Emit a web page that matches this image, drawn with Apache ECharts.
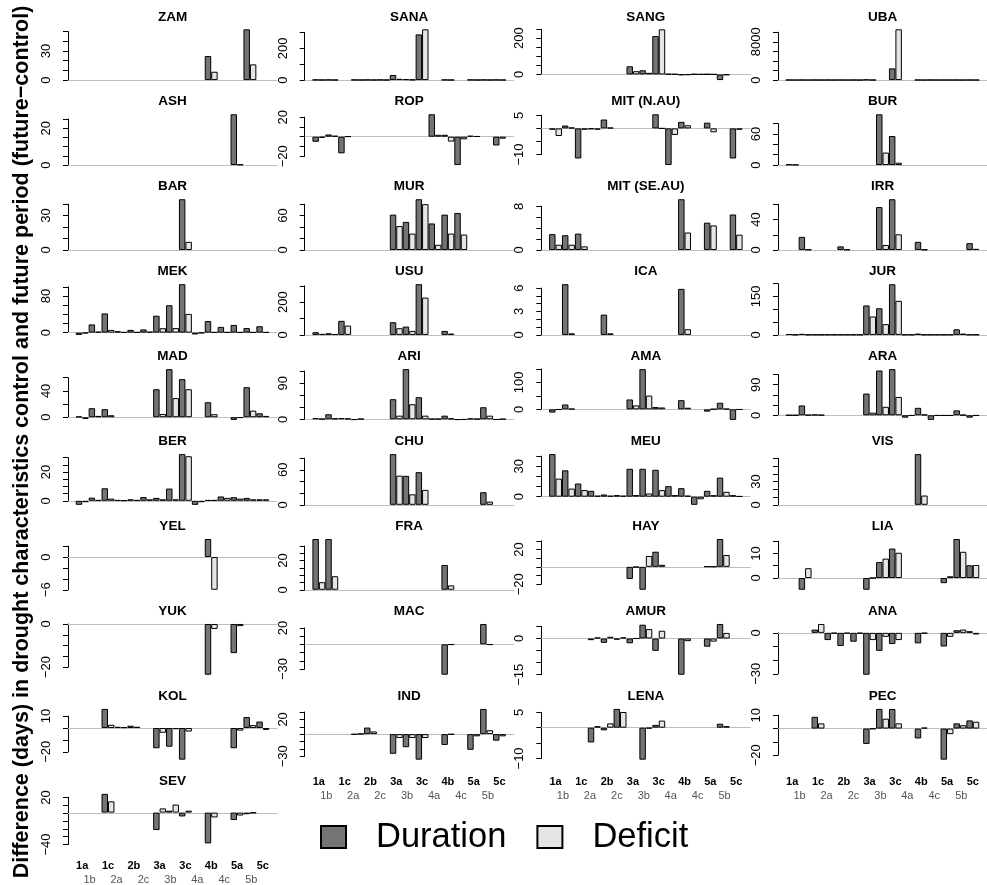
<!DOCTYPE html>
<html>
<head>
<meta charset="utf-8">
<script src="https://cdn.jsdelivr.net/npm/echarts@6/dist/echarts.min.js"></script>
<style>
  html, body { margin: 0; padding: 0; background: #ffffff; }
  #chart { width: 987px; height: 885px; }
</style>
</head>
<body>
<div id="chart"></div>
<script>
// Category groups along every x axis
const groups = ['1a','1b','1c','2a','2b','2c','3a','3b','3c','4a','4b','4c','5a','5b','5c'];
const seriesNames = ['Duration', 'Deficit'];
const _ = null; // no value for that group

// Difference (future - control) per group, days. *_dur = Duration, *_def = Deficit.
// *_ticks = y tick values, *_lab = ticks that carry a label.
const ZAM_dur = [_,_,_,_,_,_,_,_,_,_,24.8,_,_,52.4,_];
const ZAM_def = [_,_,_,_,_,_,_,_,_,_,8.6,_,_,16.2,_];
const ZAM_ticks = [0,10,20,30,40,50], ZAM_lab = [0,30];

const ASH_dur = [_,_,_,_,_,_,_,_,_,_,_,_,27.6,_,_];
const ASH_def = [_,_,_,_,_,_,_,_,_,_,_,_,0.3,_,_];
const ASH_ticks = [0,5,10,15,20,25], ASH_lab = [0,20];

const BAR_dur = [_,_,_,_,_,_,_,_,44.3,_,_,_,_,_,_];
const BAR_def = [_,_,_,_,_,_,_,_,7.1,_,_,_,_,_,_];
const BAR_ticks = [0,10,20,30,40], BAR_lab = [0,30];

const MEK_dur = [-5,18,42,3,6,7,37,60,106,-4,25.5,12.5,16.8,10,14];
const MEK_def = [-1.5,2,6,1,1,2,9.6,10,41,-1,1,1,1,1,1];
const MEK_ticks = [0,20,40,60,80,100], MEK_lab = [0,80];

const MAD_dur = [1,13.7,12.2,_,_,_,42.5,73,57.8,_,22.8,_,-4,45.6,6];
const MAD_def = [-2.5,2,3,_,_,_,5,29,42.5,_,4.6,_,-1,10,2];
const MAD_ticks = [0,20,40,60], MAD_lab = [0,40];

const BER_dur = [-2.8,2.2,8.7,0.5,1,2.6,2,8.5,32.5,-2.8,0.5,3,2.5,2,1];
const BER_def = [-1,0.5,1.5,0.3,0.5,1,1,1,31,-1,0.5,2,1.5,1,1];
const BER_ticks = [0,5,10,15,20,25,30], BER_lab = [0,20];

const YEL_dur = [_,_,_,_,_,_,_,_,_,_,3.3,_,_,_,_];
const YEL_def = [_,_,_,_,_,_,_,_,_,_,-6.0,_,_,_,_];
const YEL_ticks = [-6,-4,-2,0,2], YEL_lab = [-6,0];

const YUK_dur = [_,_,_,_,_,_,_,_,_,_,-23.5,_,-13.5,_,_];
const YUK_def = [_,_,_,_,_,_,_,_,_,_,-2.3,_,-1,_,_];
const YUK_ticks = [-20,-15,-10,-5,0], YUK_lab = [-20,0];

const KOL_dur = [_,_,16,1,1.9,_,-17,-15.7,-26.6,_,_,_,-17,9.2,5.4];
const KOL_def = [_,_,2.7,0.7,1,_,-4,-1,-3,_,_,_,-2.2,2.4,-1.6];
const KOL_ticks = [-20,-10,0,10], KOL_lab = [-20,10];

const SEV_dur = [_,_,24.5,_,_,_,-22.8,2.5,-5,_,-40.2,_,-9.7,-2.1,_];
const SEV_def = [_,_,14.7,_,_,_,5.5,10.5,2.5,_,-6.3,_,-3.8,-0.5,_];
const SEV_ticks = [-40,-30,-20,-10,0,10,20], SEV_lab = [-40,20];

const SANA_dur = [2,2,_,2,2,2,32,6,289,_,2,_,2,2,2];
const SANA_def = [1,1,_,1,1,1,8,3,321,_,1,_,1,1,1];
const SANA_ticks = [0,100,200,300], SANA_lab = [0,200];

const ROP_dur = [-5.2,2.3,-17,_,_,_,_,_,_,23,2,-29,1,_,-9];
const ROP_def = [-1,1,0.3,_,_,_,_,_,_,2,-5,-2.7,0.5,_,-2];
const ROP_ticks = [-20,-10,0,10,20], ROP_lab = [-20,20];

const MUR_dur = [_,_,_,_,_,_,61.7,49,88.6,46.3,61.7,64.6,_,_,_];
const MUR_def = [_,_,_,_,_,_,41.7,28.6,80,9,28.6,27,_,_,_];
const MUR_ticks = [0,20,40,60,80], MUR_lab = [0,60];

const USU_dur = [16.5,10,86,_,_,_,77.5,51,310,_,24.5,_,_,_,_];
const USU_def = [6,5,57,_,_,_,41,24.5,228,_,8,_,_,_,_];
const USU_ticks = [0,100,200,300], USU_lab = [0,200];

const ARI_dur = [3,12.5,3,-1.5,_,_,50,125,55,1,9,-1.5,2,30,-1];
const ARI_def = [1,2,2,1,_,_,9,37.5,9,1,2,-1,1,9,0.5];
const ARI_ticks = [0,30,60,90,120], ARI_lab = [0,90];

const CHU_dur = [_,_,_,_,_,_,87,49.7,56,_,_,_,_,21.6,_];
const CHU_def = [_,_,_,_,_,_,50,18,25.6,_,_,_,_,5.5,_];
const CHU_ticks = [0,20,40,60,80], CHU_lab = [0,60];

const FRA_dur = [34.8,34.8,_,_,_,_,_,_,_,_,17,_,_,_,_];
const FRA_def = [5.2,9.3,_,_,_,_,_,_,_,_,3,_,_,_,_];
const FRA_ticks = [0,5,10,15,20,25,30], FRA_lab = [0,20];

const MAC_dur = [_,_,_,_,_,_,_,_,_,_,-37,_,_,24.8,_];
const MAC_def = [_,_,_,_,_,_,_,_,_,_,-0.5,_,_,-0.5,_];
const MAC_ticks = [-30,-20,-10,0,10,20], MAC_lab = [-30,20];

const IND_dur = [_,_,_,-0.5,8.9,_,-26.7,-17.8,-34.7,_,-14.7,_,-21.3,34.2,-8.9];
const IND_def = [_,_,_,0.5,3.6,_,-5.3,-5.3,-5.3,_,-0.5,_,-3,5.3,-3];
const IND_ticks = [-30,-20,-10,0,10,20,30], IND_lab = [-30,20];

const SANG_dur = [_,_,_,_,_,_,45,23,212,3,-3,2,2,-31,_];
const SANG_def = [_,_,_,_,_,_,18,9,249,2,-2,1,1,-3,_];
const SANG_ticks = [0,50,100,150,200,250], SANG_lab = [0,200];

const MIT_NAU_dur = [-0.5,1.1,-11.5,-0.3,3.4,_,_,_,5.4,-14,2.5,_,2.2,_,-11.5];
const MIT_NAU_def = [-2.9,0.3,-0.5,-0.5,0.3,_,_,_,0,-2.5,1.2,_,-1.5,_,-0.5];
const MIT_NAU_ticks = [-10,-5,0,5], MIT_NAU_lab = [-10,5];

const MIT_SEAU_dur = [2.9,2.7,3.0,_,_,_,_,_,_,_,9.3,_,5.0,_,6.5];
const MIT_SEAU_def = [0.96,0.96,0.66,_,_,_,_,_,_,_,3.2,_,4.5,_,2.8];
const MIT_SEAU_ticks = [0,2,4,6,8], MIT_SEAU_lab = [0,8];

const ICA_dur = [_,6.5,_,_,2.6,_,_,_,_,_,5.9,_,_,_,_];
const ICA_def = [_,0.2,_,_,0.2,_,_,_,_,_,0.73,_,_,_,_];
const ICA_ticks = [0,1,2,3,4,5,6], ICA_lab = [0,3,6];

const AMA_dur = [-12,18,_,_,_,_,36.6,149,8.5,_,34,_,-8.5,24.4,-39];
const AMA_def = [-1,2,_,_,_,_,14.6,51,7,_,6,_,1,2,-1];
const AMA_ticks = [0,50,100,150], AMA_lab = [0,100];

const MEU_dur = [42,26,13,5.8,2.2,1.6,27.5,27.5,26.5,10.4,8.4,-8,5.8,18.8,1.5];
const MEU_def = [17.8,8,6.5,1,1,1,1.6,3.2,6.5,1.6,1,-2.5,1.5,4.8,0.5];
const MEU_ticks = [0,10,20,30,40], MEU_lab = [0,30];

const HAY_dur = [_,_,_,_,_,_,-14,-26.4,17.4,_,_,_,0.5,32,_];
const HAY_def = [_,_,_,_,_,_,-0.5,12.5,2.3,_,_,_,0.3,13.6,_];
const HAY_ticks = [-20,-10,0,10,20,30], HAY_lab = [-20,20];

const AMUR_dur = [_,_,_,-0.7,-1.8,-0.5,-2,5.7,-5.1,_,-15,_,-3.4,6,_];
const AMUR_def = [_,_,_,0.4,0.7,0.4,0,3.9,3.2,_,-1.1,_,-1.3,2.3,_];
const AMUR_ticks = [-15,-10,-5,0,5], AMUR_lab = [-15,0];

const LENA_dur = [_,_,_,-4.8,-0.85,6.1,_,-10.4,0.9,_,_,_,_,1.3,_];
const LENA_def = [_,_,_,0.5,1.4,5.1,_,-0.3,2.3,_,_,_,_,0.5,_];
const LENA_ticks = [-10,-5,0,5], LENA_lab = [-10,5];

const UBA_dur = [30,30,30,30,30,30,100,_,2445,_,30,30,30,30,30];
const UBA_def = [10,10,10,10,10,10,10,_,10600,_,10,10,10,10,10];
const UBA_ticks = [0,2000,4000,6000,8000,10000], UBA_lab = [0,8000];

const BUR_dur = [1,_,_,_,_,_,_,98,56,_,_,_,_,_,_];
const BUR_def = [0.5,_,_,_,_,_,_,24,4.5,_,_,_,_,_,_];
const BUR_ticks = [0,20,40,60,80], BUR_lab = [0,60];

const IRR_dur = [_,17.2,_,_,4.7,_,_,56.4,66.7,_,10.7,_,_,_,9.0];
const IRR_def = [_,0.5,_,_,0.5,_,_,6.5,20.6,_,0.5,_,_,_,1.5];
const IRR_ticks = [0,20,40,60], IRR_lab = [0,40];

const JUR_dur = [3,4,1,1,1,1,115,104,198,1,5,1,1,22,1];
const JUR_def = [1,1,1,1,1,1,72,42,133,1,1,1,1,5,1];
const JUR_ticks = [0,50,100,150,200], JUR_lab = [0,150];

const ARA_dur = [0.5,29,2,_,_,_,64,132,136,-7,22,-13.5,-1,14.5,-7];
const ARA_def = [0.3,1,1,_,_,_,7.8,25,54,-1,2,-1,-1,1,-1];
const ARA_ticks = [0,30,60,90,120], ARA_lab = [0,90];

const VIS_dur = [_,_,_,_,_,_,_,_,_,_,65.5,_,_,_,_];
const VIS_def = [_,_,_,_,_,_,_,_,_,_,12,_,_,_,_];
const VIS_ticks = [0,10,20,30,40,50,60], VIS_lab = [0,30];

const LIA_dur = [_,-4.8,_,_,_,_,-4.8,6.5,12,_,_,_,-2.1,15.9,5.2];
const LIA_def = [_,4,_,_,_,_,0,7.9,10.3,_,_,_,0.7,10.7,5.3];
const LIA_ticks = [0,5,10,15], LIA_lab = [0,10];

const ANA_dur = [_,_,2.4,-5.3,-9.6,-6.5,-30.7,-13.2,-8.2,_,-7.7,_,-10,1.9,1.2];
const ANA_def = [_,_,6.5,-0.5,-0.5,-0.5,-5.3,-2.9,-5.3,_,-0.5,_,-2.9,2.4,-1.2];
const ANA_ticks = [-30,-20,-10,0], ANA_lab = [-30,0];

const PEC_dur = [_,_,8.8,_,_,_,-11.5,14.7,14.7,_,-7.4,_,-23.3,3.9,6.1];
const PEC_def = [_,_,3.9,_,_,_,-0.3,7.4,3.9,_,0.7,_,-4.2,2.5,5.1];
const PEC_ticks = [-20,-10,0,10], PEC_lab = [-20,10];

// Panels, column by column (top to bottom)
const columns = [
  [['ZAM',ZAM_dur,ZAM_def,ZAM_ticks,ZAM_lab],
   ['ASH',ASH_dur,ASH_def,ASH_ticks,ASH_lab],
   ['BAR',BAR_dur,BAR_def,BAR_ticks,BAR_lab],
   ['MEK',MEK_dur,MEK_def,MEK_ticks,MEK_lab],
   ['MAD',MAD_dur,MAD_def,MAD_ticks,MAD_lab],
   ['BER',BER_dur,BER_def,BER_ticks,BER_lab],
   ['YEL',YEL_dur,YEL_def,YEL_ticks,YEL_lab],
   ['YUK',YUK_dur,YUK_def,YUK_ticks,YUK_lab],
   ['KOL',KOL_dur,KOL_def,KOL_ticks,KOL_lab],
   ['SEV',SEV_dur,SEV_def,SEV_ticks,SEV_lab]],
  [['SANA',SANA_dur,SANA_def,SANA_ticks,SANA_lab],
   ['ROP',ROP_dur,ROP_def,ROP_ticks,ROP_lab],
   ['MUR',MUR_dur,MUR_def,MUR_ticks,MUR_lab],
   ['USU',USU_dur,USU_def,USU_ticks,USU_lab],
   ['ARI',ARI_dur,ARI_def,ARI_ticks,ARI_lab],
   ['CHU',CHU_dur,CHU_def,CHU_ticks,CHU_lab],
   ['FRA',FRA_dur,FRA_def,FRA_ticks,FRA_lab],
   ['MAC',MAC_dur,MAC_def,MAC_ticks,MAC_lab],
   ['IND',IND_dur,IND_def,IND_ticks,IND_lab]],
  [['SANG',SANG_dur,SANG_def,SANG_ticks,SANG_lab],
   ['MIT (N.AU)',MIT_NAU_dur,MIT_NAU_def,MIT_NAU_ticks,MIT_NAU_lab],
   ['MIT (SE.AU)',MIT_SEAU_dur,MIT_SEAU_def,MIT_SEAU_ticks,MIT_SEAU_lab],
   ['ICA',ICA_dur,ICA_def,ICA_ticks,ICA_lab],
   ['AMA',AMA_dur,AMA_def,AMA_ticks,AMA_lab],
   ['MEU',MEU_dur,MEU_def,MEU_ticks,MEU_lab],
   ['HAY',HAY_dur,HAY_def,HAY_ticks,HAY_lab],
   ['AMUR',AMUR_dur,AMUR_def,AMUR_ticks,AMUR_lab],
   ['LENA',LENA_dur,LENA_def,LENA_ticks,LENA_lab]],
  [['UBA',UBA_dur,UBA_def,UBA_ticks,UBA_lab],
   ['BUR',BUR_dur,BUR_def,BUR_ticks,BUR_lab],
   ['IRR',IRR_dur,IRR_def,IRR_ticks,IRR_lab],
   ['JUR',JUR_dur,JUR_def,JUR_ticks,JUR_lab],
   ['ARA',ARA_dur,ARA_def,ARA_ticks,ARA_lab],
   ['VIS',VIS_dur,VIS_def,VIS_ticks,VIS_lab],
   ['LIA',LIA_dur,LIA_def,LIA_ticks,LIA_lab],
   ['ANA',ANA_dur,ANA_def,ANA_ticks,ANA_lab],
   ['PEC',PEC_dur,PEC_def,PEC_ticks,PEC_lab]]
];

const yTitle = 'Difference (days) in drought characteristics control and future period (future\u2212control)';

// ---- layout of the small multiples ----
const FONT = '"Liberation Sans", Arial, Helvetica, sans-serif';
const PLOT_W = 209, PLOT_H = 54.8;
const COL_X0 = 68, COL_STEP = 236.67;
const ROW_Y0 = 27.3, ROW_STEP = 84.95;
const UNIT = PLOT_W / 32.4;            // one bar width; 30 bars + 4% margin each side
const DARK = '#747474', LIGHT = '#e5e5e5';
const minus = v => String(v).replace('-', '\u2212');

const grid = [], xAxis = [], yAxis = [], series = [], title = [];

// second-row group labels sit on a slightly wider spacing than the groups
const richLabels = {
  a: { fontSize: 11, fontWeight: 'bold', color: '#000', lineHeight: 13.4, fontFamily: FONT }
};
for (let k = 0; k < 7; k++) {
  const d = -5.5 + 1.14 * k;
  richLabels['b' + k] = {
    fontSize: 11, color: '#555', lineHeight: 13.4, fontFamily: FONT,
    padding: d < 0 ? [0, -2 * d, 0, 0] : [0, 0, 0, 2 * d]
  };
}

columns.forEach((col, c) => {
  col.forEach((panel, r) => {
    const [name, dur, def, ticks, labeled] = panel;
    const x0 = COL_X0 + COL_STEP * c;
    const top = ROW_Y0 + ROW_STEP * r;
    const vals = dur.concat(def).filter(v => v !== null);
    const lo = Math.min(0, ...vals), hi = Math.max(0, ...vals);
    const pad = (hi - lo) * 0.04;
    const ylo = lo - pad, yhi = hi + pad;
    const toPx = v => top + (yhi - v) / (yhi - ylo) * PLOT_H;
    const tLo = ticks[0], tHi = ticks[ticks.length - 1], step = ticks[1] - ticks[0];
    const isBottom = r === col.length - 1;

    // axis grid: spans from the lowest to the highest tick; carries the zero line
    const ia = grid.length;
    grid.push({ left: x0, top: toPx(tHi), width: PLOT_W, height: toPx(tLo) - toPx(tHi) });
    xAxis.push({
      type: 'value', gridIndex: ia, min: 0, max: 1,
      axisLine: { show: true, onZero: true, lineStyle: { color: '#bebebe', width: 1 } },
      axisTick: { show: false }, axisLabel: { show: false }, splitLine: { show: false }
    });
    yAxis.push({
      type: 'value', gridIndex: ia, min: tLo, max: tHi, interval: step,
      axisLine: { show: true, onZero: false, lineStyle: { color: '#000', width: 1 } },
      axisTick: { show: true, length: 5, lineStyle: { color: '#000', width: 1 } },
      splitLine: { show: false },
      axisLabel: {
        show: true, rotate: 90, margin: 15, fontSize: 13, color: '#000', fontFamily: FONT,
        showMinLabel: true, showMaxLabel: true,
        formatter: v => (labeled.indexOf(v) >= 0 ? minus(v) : '')
      }
    });

    // bar grid: the 15 groups, inset by the 4% margin
    const ib = grid.length;
    grid.push({ left: x0 + 1.2 * UNIT, top: top, width: 30 * UNIT, height: PLOT_H });
    xAxis.push({
      type: 'category', gridIndex: ib, data: groups,
      axisLine: { show: false }, axisTick: { show: false }, splitLine: { show: false },
      axisLabel: {
        show: isBottom, interval: 0, margin: 14,
        formatter: (v, i) => (i % 2 === 0 ? '{a|' + v + '}' : '{a| }\n{b' + ((i - 1) / 2) + '|' + v + '}'),
        rich: richLabels
      }
    });
    yAxis.push({ type: 'value', gridIndex: ib, min: ylo, max: yhi, show: false, splitLine: { show: false } });

    [dur, def].forEach((data, s) => {
      series.push({
        name: seriesNames[s], type: 'bar', xAxisIndex: ib, yAxisIndex: ib,
        data: data, barGap: '0%', barCategoryGap: '0%',
        itemStyle: { color: s === 0 ? DARK : LIGHT, borderColor: '#000', borderWidth: 1 },
        emphasis: { disabled: true }, silent: true
      });
    });

    title.push({
      text: name, left: x0 + PLOT_W / 2, top: top - 17.5, textAlign: 'center', padding: 0,
      textStyle: { fontSize: 13.5, fontWeight: 'bold', color: '#000', fontFamily: FONT, lineHeight: 14 }
    });
  });
});

const chart = echarts.init(document.getElementById('chart'), null, { renderer: 'canvas' });
chart.setOption({
  animation: false,
  backgroundColor: '#ffffff',
  textStyle: { fontFamily: FONT },
  title: title,
  grid: grid,
  xAxis: xAxis,
  yAxis: yAxis,
  series: series,
  legend: {
    data: seriesNames, left: 320, top: 819, padding: 0,
    icon: 'rect', itemWidth: 25, itemHeight: 22, itemGap: 30,
    textStyle: { fontSize: 34.5, color: '#000', fontFamily: FONT, padding: [0, 0, 0, 25], lineHeight: 36 },
    selectedMode: false
  },
  graphic: [{
    type: 'text', x: 22, y: 442, rotation: Math.PI / 2,
    style: {
      text: yTitle, fontSize: 21.5, fontWeight: 'bold', fontFamily: FONT, fill: '#000',
      align: 'center', verticalAlign: 'middle'
    }
  }]
});
</script>
</body>
</html>
